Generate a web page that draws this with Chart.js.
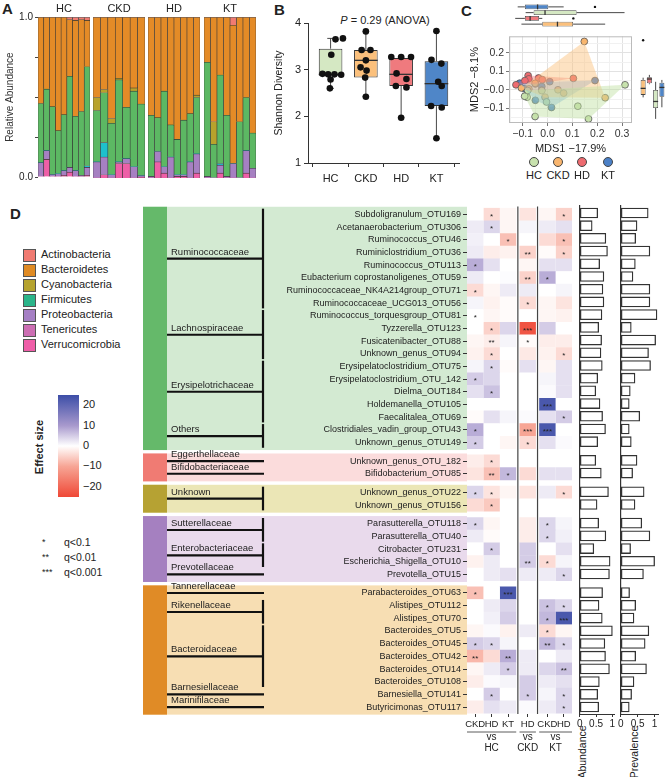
<!DOCTYPE html>
<html>
<head>
    <title>Gut microbiota in HC, CKD, HD and KT</title>
    <script src="https://cdn.jsdelivr.net/npm/chart.js"></script>
    <style>
        body { margin: 0; background: #fff; font-family: "Liberation Sans", Arial, sans-serif; color: #222; }
        #page { position: relative; width: 669px; height: 777px; overflow: hidden; }
        #page canvas { position: absolute; }
        .t { position: absolute; white-space: nowrap; line-height: 1; }
        .panel { font-weight: bold; font-size: 15px; }
        .rot { transform: translate(-50%, -50%) rotate(-90deg); }
        .sw { position: absolute; width: 11px; height: 11px; border: 1px solid #555; }
        .dot { position: absolute; width: 8px; height: 8px; border-radius: 50%; border: 1px solid #444; }
    </style>
</head>
<body>
<div id="page">
    <div class="t panel" style="left:2px;top:1px">A</div>
    <div class="t panel" style="left:274px;top:2px">B</div>
    <div class="t panel" style="left:461px;top:3px">C</div>
    <div class="t panel" style="left:10px;top:206px">D</div>
    <div class="t" style="left:285px;top:15px;width:200px;text-align:center;font-size:11px"><i>P</i> = 0.29 (ANOVA)</div>
    <div class="t rot" style="left:39px;top:447px;font-size:11px;font-weight:bold">Effect size</div>
    <div class="t rot" style="left:582px;top:752px;font-size:10.5px">Abundance</div>
    <div class="t rot" style="left:634px;top:752px;font-size:10.5px">Prevalence</div>
</div>

<script>
    // ---------- A: relative abundance per sample ----------
    const facetNames = ['HC', 'CKD', 'HD', 'KT'];
    const facetSizes = [9, 7, 8, 8];
    const verrucoA = [0, 0.11, 0, 0, 0.01, 0.03, 0, 0, 0.01, 0, 0.02, 0, 0.09, 0.09, 0, 0.005, 0, 0.1, 0.03, 0, 0.01, 0.01, 0, 0.03, 0, 0, 0.03, 0, 0, 0, 0.03, 0];
    const proteoA = [0.09, 0.055, 0.015, 0.02, 0.03, 0.03, 0.04, 0.01, 0.05, 0.1, 0.11, 0.02, 0.01, 0.03, 0.07, 0.01, 0.01, 0.065, 0.04, 0.13, 0.01, 0.01, 0.1, 0.12, 0.01, 0, 0.05, 0.01, 0.09, 0, 0.14, 0.06];
    const otherA = [0, 0, 0, 0, 0, 0, 0, 0, 0.01, 0, 0.09, 0, 0, 0, 0, 0, 0, 0, 0, 0, 0, 0, 0, 0, 0, 0, 0.01, 0, 0, 0, 0, 0];
    const firmicA = [0.37, 0.385, 0.425, 0.27, 0.35, 0.57, 0.34, 0.4, 0.62, 0.32, 0.31, 0.32, 0.51, 0.32, 0.47, 0.445, 0.38, 0.21, 0.47, 0.2, 0.22, 0.34, 0.3, 0.35, 0.71, 0.21, 0.55, 0.38, 0, 0.35, 0.33, 0.22];
    const cyanoA = [0, 0, 0, 0, 0, 0, 0, 0, 0, 0.08, 0.02, 0.03, 0.01, 0, 0.02, 0, 0, 0, 0, 0, 0, 0, 0, 0.015, 0, 0.14, 0, 0, 0, 0, 0, 0];
    const bacteroA = [0.54, 0.45, 0.56, 0.71, 0.61, 0.355, 0.6, 0.575, 0.29, 0.5, 0.45, 0.63, 0.38, 0.56, 0.44, 0.54, 0.61, 0.625, 0.46, 0.67, 0.76, 0.64, 0.6, 0.485, 0.28, 0.65, 0.36, 0.61, 0.86, 0.65, 0.5, 0.72];
    const actinoA = [0, 0, 0, 0, 0, 0.015, 0.02, 0.015, 0.02, 0, 0, 0, 0, 0, 0, 0, 0, 0, 0, 0, 0, 0, 0, 0, 0, 0, 0, 0, 0.05, 0, 0, 0];

    // ---------- B: Shannon diversity ----------
    const bGroups = ['HC', 'CKD', 'HD', 'KT'];
    const bLow = [2.6, 2.42, 1.97, 1.52];
    const bQ1 = [2.87, 2.83, 2.65, 2.22];
    const bMed = [2.9, 3.2, 2.9, 2.7];
    const bQ3 = [3.45, 3.42, 3.25, 3.18];
    const bHigh = [3.67, 3.82, 3.27, 3.82];
    const shannonHC = [3.67, 3.65, 3.32, 2.91, 2.9, 2.9, 2.89, 2.79, 2.6];
    const jitterHC = [0.35, 0.14, 0.02, -0.23, -0.07, 0.11, 0.3, 0.0, -0.02];
    const shannonCKD = [3.82, 3.42, 3.42, 3.2, 3.05, 2.98, 2.83, 2.42];
    const jitterCKD = [0, -0.12, 0.13, 0, -0.15, 0.02, -0.02, 0];
    const shannonHD = [3.27, 3.27, 3.27, 2.92, 2.8, 2.65, 2.62, 1.97];
    const jitterHD = [-0.28, 0, 0.28, -0.13, 0.15, -0.15, 0.15, 0];
    const shannonKT = [3.83, 3.21, 3.13, 2.74, 2.65, 2.22, 2.19, 1.53];
    const jitterKT = [0, -0.14, 0.14, 0.05, 0.15, -0.15, 0.15, 0];

    // ---------- C: MDS ordination ----------
    const cGroups = ['HC', 'CKD', 'HD', 'KT'];
    const hcMds1 = [-0.08, -0.082, -0.023, -0.004, -0.05, 0.122, 0.165, 0.312, -0.092];
    const hcMds2 = [-0.004, -0.04, -0.004, -0.066, -0.145, -0.089, -0.158, 0.027, -0.035];
    const ckdMds1 = [0.148, 0.042, 0.065, -0.01, -0.105, 0.232, -0.075, -0.05];
    const ckdMds2 = [0.262, 0.0, -0.018, -0.04, 0.01, -0.043, 0.005, 0.035];
    const hdMds1 = [-0.127, -0.078, -0.075, -0.036, -0.021, -0.049, 0.104, -0.091];
    const hdMds2 = [0.027, 0.077, 0.059, 0.064, 0.055, 0.032, 0.062, 0.05];
    const ktMds1 = [-0.112, -0.091, -0.049, -0.023, 0.009, 0.191, -0.023, 0.016];
    const ktMds2 = [0.036, 0.005, -0.057, 0.018, 0.044, 0.05, -0.002, -0.096];
    // marginal boxplots
    const topOrder = ['KT', 'HC', 'HD', 'CKD'];
    const mds1Lo = [-0.12, -0.088, -0.13, -0.105];
    const mds1Q1 = [-0.091, -0.056, -0.091, -0.021];
    const mds1Med = [-0.04, -0.01, -0.07, 0.04];
    const mds1Q3 = [0.003, 0.117, -0.034, 0.103];
    const mds1Hi = [0.065, 0.31, -0.021, 0.232];
    const mds1Out = [{ x: 0.191, y: 'KT' }, { x: 0.104, y: 'HD' }];
    const rightOrder = ['CKD', 'HD', 'HC', 'KT'];
    const mds2Lo = [-0.043, 0.027, -0.158, -0.096];
    const mds2Q1 = [-0.03, 0.032, -0.1, -0.04];
    const mds2Med = [0.005, 0.055, -0.065, 0.01];
    const mds2Q3 = [0.05, 0.064, -0.004, 0.035];
    const mds2Hi = [0.062, 0.077, 0.04, 0.05];
    const mds2Out = [{ x: 'CKD', y: 0.262 }];

    // ---------- D: differential OTUs ----------
    const rowLabels = ['Subdoligranulum_OTU169', 'Acetanaerobacterium_OTU306', 'Ruminococcus_OTU46', 'Ruminiclostridium_OTU36',
        'Ruminococcus_OTU113', 'Eubacterium coprostanoligenes_OTU59', 'Ruminococcaceae_NK4A214group_OTU71', 'Ruminococcaceae_UCG013_OTU56',
        'Ruminococcus_torquesgroup_OTU81', 'Tyzzerella_OTU123', 'Fusicatenibacter_OTU88', 'Unknown_genus_OTU94',
        'Erysipelatoclostridium_OTU75', 'Erysipelatoclostridium_OTU_142', 'Dielma_OUT184', 'Holdemanella_OTU105',
        'Faecalitalea_OTU69', 'Clostridiales_vadin_group_OTU43', 'Unknown_genus_OTU149', 'Unknown_genus_OTU_182',
        'Bifidobacterium_OTU85', 'Unknown_genus_OTU22', 'Unknown_genus_OTU156', 'Parasutterella_OTU118',
        'Parasutterella_OTU40', 'Citrobacter_OTU231', 'Escherichia_Shigella_OTU10', 'Prevotella_OTU15',
        'Parabacteroides_OTU63', 'Alistipes_OTU112', 'Alistipes_OTU70', 'Bacteroides_OTU5',
        'Bacteroides_OTU45', 'Bacteroides_OTU42', 'Bacteroides_OTU14', 'Bacteroides_OTU108',
        'Barnesiella_OTU141', 'Butyricimonas_OTU117'];
    const phylumRowCounts = [19, 2, 2, 5, 10]; // Firmicutes, Actinobacteria, Cyanobacteria, Proteobacteria, Bacteroidetes
    const familyNames = ['Ruminococcaceae', 'Lachnospiraceae', 'Erysipelotrichaceae', 'Others', 'Eggerthellaceae',
        'Bifidobacteriaceae', 'Unknown', 'Sutterellaceae', 'Enterobacteriaceae', 'Prevotellaceae', 'Tannerellaceae',
        'Rikenellaceae', 'Bacteroidaceae', 'Barnesiellaceae', 'Marinifilaceae'];
    const familyRowCounts = [8, 4, 5, 2, 1, 1, 2, 2, 2, 1, 1, 2, 5, 1, 1];
    const colNames = ['CKD', 'HD', 'KT', 'HD', 'CKD', 'HD'];
    const refNames = ['HC', 'CKD', 'KT'];

    const effCkdHc = [0, 2, 1.5, 2, 8, 2, -4, 1, 0, 0, -1, -1.5, 1, 5, 3, 0, -0.5, 8, 5, -2, -3, 4, -4, 4, 2, 0, -1.5, 0, -7, 0, 0, -1, 5, -8, -1, -2, 0, -2];
    const effHdHc = [-4, 4, 0, -2, 3, 0, -1, -1.5, -1, -5, -2, -4, 4, 4, 6, 0, 3, 0, 0, -4, -7, -3, -6, -1, -0.5, 5, 2, 2, 0, 2, 1.5, 0.5, 4, -4, 2, 0.5, 5, 3];
    const effKtHc = [-1, -1, -7, -1.5, 0, 0.3, 2, -0.5, -0.5, 4, 1, 0, -0.5, 0, 0, 0, 1, 0, -1, 0, 7, -1, 0, 0, 0, 0, 0, 3, 23, 4, 5, -1.5, 1, 8, 5, 1, 0, 2];
    const effHdCkd = [-3, 1, 0, -5, -1, -5, 2, -4, 0, -23, -0.5, -2.5, 3, 0, 0, 0, 0.5, -10, -4, 0, -4, -3, 0, -2, -2, 5, 5, 2, 0, 0, 0, 2, 0, 2, 2, 5, 5, 0.5];
    const effCkdKt = [-1, 2, -4, -0.5, 3, 8, 0, -1, -1, 5, -2, -1.5, -1, 1, 0.5, 23, 3, 23, 3, 0, 3, 2, 0, 4, 4, 0, -4, 2, 0, 6, 7, -4, 7, 0, 4, 2, 1, 2];
    const effHdKt = [-5, 3, -7, -5, 3, 0, 1, -3, -1.5, 0, -2, -4, 3, 3, 3, 0, 5, 0, 0.5, 0, 3, -4, 0, 1, 1.5, 3, 1, 4, 0, 4, 23, -1, 4, 2, 6, 3, 4, 4];

    // number of stars (q-value level)
    const sigCkdHc = [0, 0, 0, 0, 1, 0, 1, 0, 1, 0, 0, 0, 0, 1, 0, 0, 0, 1, 1, 0, 0, 1, 0, 1, 0, 0, 0, 0, 1, 0, 0, 0, 1, 2, 0, 0, 0, 0];
    const sigHdHc = [1, 1, 0, 0, 0, 0, 0, 0, 0, 1, 2, 1, 1, 0, 1, 0, 0, 0, 0, 1, 2, 1, 1, 0, 0, 1, 0, 0, 0, 0, 0, 0, 1, 0, 0, 0, 1, 0];
    const sigKtHc = [0, 0, 1, 0, 0, 0, 0, 0, 0, 0, 0, 0, 0, 0, 0, 0, 0, 0, 0, 0, 1, 0, 0, 0, 0, 0, 0, 0, 3, 0, 0, 0, 0, 2, 1, 0, 0, 0];
    const sigHdCkd = [0, 0, 0, 2, 0, 2, 0, 1, 0, 3, 1, 0, 0, 0, 0, 0, 0, 3, 1, 0, 0, 0, 0, 0, 0, 0, 2, 0, 0, 0, 0, 0, 0, 0, 0, 0, 1, 0];
    const sigCkdKt = [0, 0, 0, 0, 0, 1, 0, 0, 0, 0, 0, 0, 0, 0, 0, 3, 0, 3, 0, 0, 0, 0, 0, 1, 1, 0, 1, 0, 0, 1, 1, 1, 2, 0, 0, 0, 0, 0];
    const sigHdKt = [1, 0, 1, 1, 0, 0, 0, 0, 0, 0, 0, 1, 0, 0, 0, 0, 1, 0, 0, 0, 0, 1, 0, 0, 0, 0, 0, 1, 0, 1, 3, 0, 1, 0, 2, 0, 1, 1];

    const abundance = [0.55, 0.38, 0.8, 0.85, 0.61, 0.74, 0.71, 0.74, 0.68, 0.58, 0.67, 0.65, 0.69, 0.55, 0.49, 0.62, 0.7, 0.79, 0.55, 0.49,
        0.66, 0.88, 0.53, 0.58, 0.8, 0.43, 0.93, 0.91, 0.7, 0.59, 0.69, 1.0, 0.77, 0.79, 0.91, 0.6, 0.55, 0.58];
    const prevalence = [0.81, 0.48, 0.44, 0.86, 0.43, 0.36, 0.86, 0.86, 1.07, 0.31, 1.03, 0.82, 0.88, 0.42, 0.28, 0.25, 0.56, 0.25, 0.31, 0.48,
        0.35, 0.69, 0.42, 0.62, 0.86, 0.29, 1.0, 0.67, 0.26, 0.44, 0.39, 0.83, 0.72, 0.44, 0.76, 0.39, 0.32, 0.25];

    const legendPhyla = ['Actinobacteria', 'Bacteroidetes', 'Cyanobacteria', 'Firmicutes', 'Proteobacteria', 'Tenericutes', 'Verrucomicrobia'];
    const effectTicks = [20, 10, 0, -10, -20];

    // ---------- styles ----------
    const FONT = '"Liberation Sans", Arial, sans-serif';
    Chart.defaults.font.family = FONT;
    Chart.defaults.color = '#222';
    Chart.defaults.animation = false;
    Chart.defaults.responsive = false;
    Chart.defaults.devicePixelRatio = 1;
    Chart.defaults.plugins.legend.display = false;
    Chart.defaults.plugins.tooltip.enabled = false;

    const legendColors = ['#f07b72', '#e08b23', '#b5a32f', '#2bb58a', '#a57fc4', '#cc6eb3', '#ef5ea8'];
    const groupFill = ['#d5e8c3', '#fbc07c', '#ef7a7e', '#4f86c8'];
    const pointFill = ['#c8e2ae', '#f8b56e', '#ee6b70', '#4b80c6'];
    const hullFill = ['rgba(190,225,160,0.45)', 'rgba(250,190,120,0.45)', 'rgba(240,110,115,0.4)', 'rgba(100,165,230,0.4)'];
    const bandColors = ['#d3ead2', '#fbdcdc', '#ebe6b6', '#e9daec', '#f7deb3'];
    const stripColors = ['#65b96a', '#f07b73', '#b6a233', '#a580c0', '#e08b26'];
    const colorOf = { HC: 0, CKD: 1, HD: 2, KT: 3 };

    const page = document.getElementById('page');
    function addCanvas(left, top, w, h) {
        const c = document.createElement('canvas');
        c.width = w; c.height = h;
        c.style.left = left + 'px'; c.style.top = top + 'px';
        c.style.width = w + 'px'; c.style.height = h + 'px';
        page.appendChild(c);
        return c;
    }
    function addText(txt, left, top, size, extra) {
        const d = document.createElement('div');
        d.className = 't';
        d.textContent = txt;
        d.style.left = left + 'px'; d.style.top = top + 'px'; d.style.fontSize = size + 'px';
        if (extra) Object.assign(d.style, extra);
        page.appendChild(d);
        return d;
    }

    // box whiskers + medians drawn after the box dataset
    function whiskers(stats, horizontal, cap) {
        return {
            id: 'whiskers',
            afterDatasetDraw(chart, args) {
                if (args.index !== 0) return;
                const ctx = chart.ctx;
                const vs = horizontal ? chart.scales.x : chart.scales.y;
                ctx.save();
                ctx.strokeStyle = '#333';
                chart.getDatasetMeta(0).data.forEach((bar, i) => {
                    const c = horizontal ? bar.y : bar.x;
                    const half = (horizontal ? bar.height : bar.width) / 2;
                    const seg = (a, b, p, q) => {
                        ctx.beginPath();
                        if (horizontal) { ctx.moveTo(a, p); ctx.lineTo(b, q); } else { ctx.moveTo(p, a); ctx.lineTo(q, b); }
                        ctx.stroke();
                    };
                    const lo = vs.getPixelForValue(stats.lo[i]), q1 = vs.getPixelForValue(stats.q1[i]);
                    const q3 = vs.getPixelForValue(stats.q3[i]), hi = vs.getPixelForValue(stats.hi[i]);
                    const med = vs.getPixelForValue(stats.med[i]);
                    ctx.lineWidth = 0.9;
                    seg(lo, q1, c, c);
                    seg(q3, hi, c, c);
                    if (cap) {
                        seg(lo, lo, c - half * cap, c + half * cap);
                        seg(hi, hi, c - half * cap, c + half * cap);
                    }
                    ctx.lineWidth = 1.3;
                    seg(med, med, c - half, c + half);
                });
                ctx.restore();
            }
        };
    }

    // ---------- panel A ----------
    const phylaA = [
        { label: 'Verrucomicrobia', values: verrucoA, color: '#ee5fa7' },
        { label: 'Proteobacteria', values: proteoA, color: '#a680c2' },
        { label: 'Other', values: otherA, color: '#1ec0cc' },
        { label: 'Firmicutes', values: firmicA, color: '#5cb863' },
        { label: 'Cyanobacteria', values: cyanoA, color: '#b8a22c' },
        { label: 'Bacteroidetes', values: bacteroA, color: '#e48b27' },
        { label: 'Actinobacteria', values: actinoA, color: '#f07b72' }
    ];
    const facetLeft = [0, 93, 148, 204];
    let offset = 0;
    facetNames.forEach((name, f) => {
        const n = facetSizes[f];
        const first = f === 0;
        const from = offset;
        const yAxis = {
            stacked: true, min: 0, max: 1, display: first,
            ticks: { stepSize: 0.25, font: { size: 10 }, padding: 2, callback: v => (v === 0 ? '0.0' : v === 1 ? '1.0' : '') },
            title: { display: true, text: 'Relative Abundance', font: { size: 10 }, padding: 0, color: '#333' },
            grid: { drawOnChartArea: false, tickLength: 3, color: '#444' },
            border: { display: false }
        };
        if (first) yAxis.afterFit = s => { s.width = 34; };
        new Chart(addCanvas(facetLeft[f], 0, first ? 90 : 52, 185), {
            type: 'bar',
            data: {
                labels: Array.from({ length: n }, (_, i) => String(i + 1)),
                datasets: phylaA.map(p => ({
                    label: p.label,
                    data: p.values.slice(from, from + n),
                    backgroundColor: p.color,
                    borderColor: '#333',
                    borderWidth: c => (c.raw > 0 ? 0.6 : 0),
                    categoryPercentage: 1,
                    barPercentage: 1
                }))
            },
            options: {
                layout: { padding: { bottom: 7, left: first ? 4 : 0 } },
                plugins: { title: { display: true, fullSize: false, text: name, color: '#222', font: { size: 11, weight: 'normal' }, padding: { top: 2, bottom: 2 } } },
                scales: { x: { stacked: true, display: false }, y: yAxis }
            }
        });
        offset += n;
    });

    // ---------- panel B ----------
    const shannon = [shannonHC, shannonCKD, shannonHD, shannonKT];
    const jitter = [jitterHC, jitterCKD, jitterHD, jitterKT];
    const bPoints = [];
    shannon.forEach((vals, g) => vals.forEach((v, k) => bPoints.push({ x: g + 1 + jitter[g][k], y: v })));
    new Chart(addCanvas(273, 0, 190, 190), {
        type: 'bar',
        data: {
            datasets: [
                {
                    data: bGroups.map((g, i) => ({ x: i + 1, y: [bQ1[i], bQ3[i]] })),
                    backgroundColor: groupFill, borderColor: '#333', borderWidth: 1, borderSkipped: false,
                    categoryPercentage: 1, barPercentage: 0.67, order: 1
                },
                { type: 'scatter', data: bPoints, backgroundColor: '#111', borderWidth: 0, pointRadius: 3.3, order: 0 }
            ]
        },
        options: {
            layout: { padding: { top: 23, right: 2 } },
            scales: {
                x: {
                    type: 'linear', min: 0.36, max: 4.64, offset: false,
                    afterBuildTicks: s => { s.ticks = bGroups.map((g, i) => ({ value: i + 1 })); },
                    ticks: { autoSkip: false, maxRotation: 0, font: { size: 11 }, padding: 5, callback: (v, i) => bGroups[i] },
                    grid: { drawOnChartArea: false, tickLength: 4, color: '#333' },
                    border: { color: '#333' },
                    afterFit: s => { s.height = 27; }
                },
                y: {
                    min: 1, max: 4,
                    ticks: { stepSize: 1, font: { size: 11 }, padding: 3 },
                    title: { display: true, text: 'Shannon Diversity', font: { size: 10.5 }, padding: 0, color: '#222' },
                    grid: { drawOnChartArea: false, tickLength: 4, color: '#333' },
                    border: { color: '#333' },
                    afterFit: s => { s.width = 35; }
                }
            }
        },
        plugins: [whiskers({ lo: bLow, q1: bQ1, med: bMed, q3: bQ3, hi: bHigh }, false, 0.28)]
    });

    // ---------- panel C ----------
    function hull(pts) {
        const p = pts.slice().sort((a, b) => a.x - b.x || a.y - b.y);
        const cross = (o, a, b) => (a.x - o.x) * (b.y - o.y) - (a.y - o.y) * (b.x - o.x);
        const lower = [], upper = [];
        for (const q of p) {
            while (lower.length >= 2 && cross(lower[lower.length - 2], lower[lower.length - 1], q) <= 0) lower.pop();
            lower.push(q);
        }
        for (let i = p.length - 1; i >= 0; i--) {
            const q = p[i];
            while (upper.length >= 2 && cross(upper[upper.length - 2], upper[upper.length - 1], q) <= 0) upper.pop();
            upper.push(q);
        }
        upper.pop(); lower.pop();
        const h = lower.concat(upper);
        h.push(h[0]);
        return h;
    }
    const mdsX = [hcMds1, ckdMds1, hdMds1, ktMds1];
    const mdsY = [hcMds2, ckdMds2, hdMds2, ktMds2];
    const mdsPts = mdsX.map((xs, g) => xs.map((x, k) => ({ x: x, y: mdsY[g][k] })));
    const minus = v => (v < 0 ? '\u2212' + Math.abs(v).toFixed(1) : v.toFixed(1));
    const isMajor = v => Math.abs(Math.round(v * 100) % 10) === 0;
    const xRange = { min: -0.155, max: 0.34 };
    const yRange = { min: -0.18, max: 0.29 };
    const frame = {
        id: 'frame',
        afterDraw(chart) {
            const { ctx, chartArea: a } = chart;
            ctx.save(); ctx.strokeStyle = '#bbb'; ctx.lineWidth = 1;
            ctx.strokeRect(a.left + 0.5, a.top + 0.5, a.width - 1, a.height - 1);
            ctx.restore();
        }
    };
    new Chart(addCanvas(468, 28, 172, 128), {
        type: 'scatter',
        data: {
            datasets: mdsPts.map((pts, g) => ({
                type: 'line', data: hull(pts), fill: 'shape', backgroundColor: hullFill[g],
                borderWidth: 0, pointRadius: 0, tension: 0
            })).concat(mdsPts.map((pts, g) => ({
                type: 'scatter', data: pts, backgroundColor: pointFill[g], borderColor: '#555', borderWidth: 0.8, pointRadius: 3.4
            })))
        },
        options: {
            layout: { padding: { top: 7, right: 8 } },
            scales: {
                x: {
                    type: 'linear', min: xRange.min, max: xRange.max,
                    afterBuildTicks: s => { s.ticks = [-0.15, -0.1, -0.05, 0, 0.05, 0.1, 0.15, 0.2, 0.25, 0.3].map(v => ({ value: v })); },
                    ticks: { autoSkip: false, maxRotation: 0, font: { size: 10.5 }, padding: 2, color: '#333', callback: v => (isMajor(v) ? minus(v) : '') },
                    grid: { color: c => (isMajor(c.tick.value) ? '#e2e2e2' : '#f1f1f1'), tickColor: c => (isMajor(c.tick.value) ? '#777' : 'rgba(0,0,0,0)'), tickLength: 3 },
                    border: { display: false },
                    title: { display: true, text: 'MDS1 \u221217.9%', font: { size: 11 }, padding: 0, color: '#222' },
                    afterFit: s => { s.height = 33; }
                },
                y: {
                    type: 'linear', min: yRange.min, max: yRange.max,
                    afterBuildTicks: s => { s.ticks = [-0.15, -0.1, -0.05, 0, 0.05, 0.1, 0.15, 0.2, 0.25].map(v => ({ value: v })); },
                    ticks: { autoSkip: false, font: { size: 10.5 }, padding: 2, color: '#333', callback: v => (isMajor(v) ? (v === 0 ? '\u22120.0' : minus(v)) : '') },
                    grid: { color: c => (isMajor(c.tick.value) ? '#e2e2e2' : '#f1f1f1'), tickColor: c => (isMajor(c.tick.value) ? '#777' : 'rgba(0,0,0,0)'), tickLength: 3 },
                    border: { display: false },
                    title: { display: true, text: 'MDS2 \u22128.1%', font: { size: 11 }, padding: 0, color: '#222' },
                    afterFit: s => { s.width = 41; }
                }
            }
        },
        plugins: [frame]
    });

    // top marginal (MDS1)
    new Chart(addCanvas(468, 0, 172, 31), {
        type: 'bar',
        data: {
            labels: topOrder,
            datasets: [
                {
                    data: topOrder.map((g, i) => [mds1Q1[i], mds1Q3[i]]),
                    backgroundColor: topOrder.map(g => groupFill[colorOf[g]]), borderColor: '#444', borderWidth: 0.8,
                    borderSkipped: false, categoryPercentage: 1, barPercentage: 0.85
                },
                { type: 'scatter', data: mds1Out, backgroundColor: '#111', borderWidth: 0, pointRadius: 1.2 }
            ]
        },
        options: {
            indexAxis: 'y',
            layout: { padding: { left: 41, right: 8, top: 4, bottom: 3 } },
            scales: { x: { type: 'linear', min: xRange.min, max: xRange.max, display: false }, y: { type: 'category', display: false } }
        },
        plugins: [whiskers({ lo: mds1Lo, q1: mds1Q1, med: mds1Med, q3: mds1Q3, hi: mds1Hi }, true, 0)]
    });

    // right marginal (MDS2)
    new Chart(addCanvas(636, 28, 33, 128), {
        type: 'bar',
        data: {
            labels: rightOrder,
            datasets: [
                {
                    data: rightOrder.map((g, i) => [mds2Q1[i], mds2Q3[i]]),
                    backgroundColor: rightOrder.map(g => groupFill[colorOf[g]]), borderColor: '#444', borderWidth: 0.8,
                    borderSkipped: false, categoryPercentage: 1, barPercentage: 0.8
                },
                { type: 'scatter', data: mds2Out, backgroundColor: '#111', borderWidth: 0, pointRadius: 1.2 }
            ]
        },
        options: {
            layout: { padding: { left: 2, right: 0, top: 7, bottom: 33 } },
            scales: { x: { type: 'category', display: false }, y: { type: 'linear', min: yRange.min, max: yRange.max, display: false } }
        },
        plugins: [whiskers({ lo: mds2Lo, q1: mds2Q1, med: mds2Med, q3: mds2Q3, hi: mds2Hi }, false, 0)]
    });

    // C legend
    const cLegendX = [534, 558, 582, 608];
    cGroups.forEach((g, i) => {
        const d = document.createElement('div');
        d.className = 'dot';
        d.style.left = (cLegendX[i] - 5) + 'px'; d.style.top = '157px'; d.style.background = pointFill[i];
        page.appendChild(d);
        addText(g, cLegendX[i], 170, 11, { transform: 'translateX(-50%)' });
    });

    // ---------- panel D ----------
    function effectColor(v) {
        const stops = [[-25, [239, 72, 54]], [-10, [247, 165, 149]], [0, [255, 255, 255]], [10, [168, 153, 205]], [25, [60, 78, 167]]];
        v = Math.max(-25, Math.min(25, v));
        for (let k = 0; k < stops.length - 1; k++) {
            const [a, ca] = stops[k], [b, cb] = stops[k + 1];
            if (v <= b) {
                const t = (v - a) / (b - a);
                return 'rgb(' + ca.map((c, j) => Math.round(c + (cb[j] - c) * t)).join(',') + ')';
            }
        }
        return 'rgb(60,78,167)';
    }

    const GAP = 0.47;
    const rowPos = [];
    let r = 0;
    phylumRowCounts.forEach((n, g) => { for (let k = 0; k < n; k++) { rowPos.push(r + g * GAP); r++; } });
    const yMin = -0.55, yMax = rowPos[rowPos.length - 1] + 0.55;
    const colStart = [0, 1, 2, 3.2, 4.4, 5.4];
    const separators = [3.1, 4.3];
    const refSpans = [[0, 3], [3.2, 4.2], [4.4, 6.4]];
    const effects = [effCkdHc, effHdHc, effKtHc, effHdCkd, effCkdKt, effHdKt];
    const sigs = [sigCkdHc, sigHdHc, sigKtHc, sigHdCkd, sigCkdKt, sigHdKt];

    const treePlugin = {
        id: 'tree',
        beforeDraw(chart) {
            const { ctx, chartArea, scales: { y } } = chart;
            ctx.save();
            let first = 0;
            phylumRowCounts.forEach((n, g) => {
                const top = y.getPixelForValue(rowPos[first] - 0.6);
                const bottom = y.getPixelForValue(rowPos[first + n - 1] + 0.6);
                ctx.fillStyle = bandColors[g];
                ctx.fillRect(0, top, chartArea.left, bottom - top);
                ctx.fillStyle = stripColors[g];
                ctx.fillRect(0, top, 24, bottom - top);
                first += n;
            });
            first = 0;
            ctx.strokeStyle = '#111'; ctx.lineWidth = 2.2;
            ctx.fillStyle = '#222'; ctx.font = '9.5px ' + FONT; ctx.textBaseline = 'bottom';
            familyRowCounts.forEach((n, f) => {
                const a = rowPos[first], b = rowPos[first + n - 1];
                const ly = y.getPixelForValue((a + b) / 2);
                ctx.beginPath(); ctx.moveTo(24, ly); ctx.lineTo(121, ly); ctx.stroke();
                if (n > 1) {
                    ctx.beginPath();
                    ctx.moveTo(120, y.getPixelForValue(a - 0.45));
                    ctx.lineTo(120, y.getPixelForValue(b + 0.42));
                    ctx.stroke();
                }
                ctx.fillText(familyNames[f], 28, ly - 2);
                first += n;
            });
            ctx.restore();
        }
    };
    const heatNotes = {
        id: 'heatNotes',
        afterDatasetsDraw(chart) {
            const ctx = chart.ctx;
            ctx.save();
            ctx.fillStyle = '#222'; ctx.font = '8px ' + FONT; ctx.textAlign = 'center'; ctx.textBaseline = 'middle';
            sigs.forEach((sig, c) => {
                chart.getDatasetMeta(c).data.forEach((bar, i) => {
                    if (sig[i]) ctx.fillText('*'.repeat(sig[i]), (bar.x + bar.base) / 2, bar.y + 2);
                });
            });
            ctx.restore();
        },
        afterDraw(chart) {
            const { ctx, chartArea: a, scales: { x } } = chart;
            ctx.save();
            ctx.strokeStyle = '#444'; ctx.lineWidth = 1.2;
            separators.forEach(v => {
                const px = x.getPixelForValue(v);
                ctx.beginPath(); ctx.moveTo(px, a.top - 1); ctx.lineTo(px, a.bottom); ctx.stroke();
            });
            ctx.fillStyle = '#222'; ctx.font = '10px ' + FONT; ctx.textAlign = 'center'; ctx.textBaseline = 'middle';
            ctx.strokeStyle = '#333'; ctx.lineWidth = 0.8;
            refNames.forEach((name, k) => {
                const l = x.getPixelForValue(refSpans[k][0]), rr = x.getPixelForValue(refSpans[k][1]);
                ctx.beginPath(); ctx.moveTo(l, a.bottom + 18); ctx.lineTo(rr, a.bottom + 18); ctx.stroke();
                ctx.fillText('vs', (l + rr) / 2, a.bottom + 23);
                ctx.fillText(name, (l + rr) / 2, a.bottom + 34);
            });
            ctx.restore();
        }
    };

    new Chart(addCanvas(143, 200, 432, 560), {
        type: 'bar',
        data: {
            datasets: effects.map((eff, c) => ({
                data: eff.map((v, i) => ({ x: [colStart[c], colStart[c] + 1], y: rowPos[i] })),
                backgroundColor: eff.map(effectColor),
                borderWidth: 0, grouped: false, categoryPercentage: 1, barPercentage: 1.03
            }))
        },
        options: {
            indexAxis: 'y',
            layout: { padding: { top: 6, right: 3 } },
            scales: {
                x: {
                    type: 'linear', min: 0, max: 6.4, offset: false,
                    afterBuildTicks: s => { s.ticks = colStart.map(v => ({ value: v + 0.5 })); },
                    ticks: { autoSkip: false, maxRotation: 0, font: { size: 9.5 }, padding: 2, callback: (v, i) => colNames[i] },
                    grid: { drawOnChartArea: false, tickLength: 3, color: '#333' },
                    border: { display: false },
                    afterFit: s => { s.height = 46; }
                },
                y: {
                    type: 'linear', reverse: true, min: yMin, max: yMax, offset: false,
                    afterBuildTicks: s => { s.ticks = rowPos.map(v => ({ value: v })); },
                    ticks: { autoSkip: false, font: { size: 9 }, padding: 2, callback: (v, i) => rowLabels[i] },
                    grid: { drawOnChartArea: false, offset: false, tickLength: 4, color: '#333' },
                    border: { display: false },
                    afterFit: s => { s.width = 324; }
                }
            }
        },
        plugins: [treePlugin, heatNotes]
    });

    function barsPanel(left, yWidth, width, values, xMax) {
        new Chart(addCanvas(left, 200, width, 560), {
            type: 'bar',
            data: {
                datasets: [{
                    data: values.map((v, i) => ({ x: v, y: rowPos[i] })),
                    backgroundColor: '#fff', borderColor: '#333', borderWidth: 1.3, borderSkipped: false,
                    barThickness: 10, grouped: false
                }]
            },
            options: {
                indexAxis: 'y',
                layout: { padding: { top: 6, right: 4 } },
                scales: {
                    x: {
                        type: 'linear', min: 0, max: xMax, offset: false,
                        afterBuildTicks: s => { s.ticks = [0, 0.5, 1].map(v => ({ value: v })); },
                        ticks: { autoSkip: false, maxRotation: 0, font: { size: 10 }, padding: 1, callback: v => String(v) },
                        grid: { drawOnChartArea: false, tickLength: 3, color: '#333' },
                        border: { display: true, color: '#333' },
                        afterFit: s => { s.height = 46; }
                    },
                    y: {
                        type: 'linear', reverse: true, min: yMin, max: yMax, offset: false,
                        ticks: { display: false },
                        grid: { display: false },
                        border: { display: true, color: '#333', width: 1.2 },
                        afterFit: s => { s.width = yWidth; }
                    }
                }
            }
        });
    }
    barsPanel(576, 1, 42, abundance, 1.05);
    barsPanel(617, 2, 45, prevalence, 1.1);

    // phylum legend
    legendPhyla.forEach((name, i) => {
        const sw = document.createElement('div');
        sw.className = 'sw';
        sw.style.left = '23px'; sw.style.top = (249 + i * 15) + 'px'; sw.style.background = legendColors[i];
        page.appendChild(sw);
        addText(name, 41, 249 + i * 15, 11);
    });

    // effect size colour bar
    const bar = document.createElement('div');
    bar.style.position = 'absolute';
    bar.style.left = '58px'; bar.style.top = '395px'; bar.style.width = '21px'; bar.style.height = '102px';
    const gradStops = [];
    for (let v = 25; v >= -25; v -= 5) gradStops.push(effectColor(v) + ' ' + ((25 - v) * 2) + '%');
    bar.style.background = 'linear-gradient(to bottom, ' + gradStops.join(', ') + ')';
    page.appendChild(bar);
    effectTicks.forEach(v => {
        const y = 395 + (25 - v) / 50 * 102;
        addText(v < 0 ? '\u2212' + Math.abs(v) : String(v), 83, y - 6, 11);
    });

    // significance legend
    ['*', '**', '***'].forEach((s, i) => {
        addText(s, 42, 538 + i * 15, 9);
        addText(['q<0.1', 'q<0.01', 'q<0.001'][i], 64, 537 + i * 15, 10.5);
    });
</script>
</body>
</html>
